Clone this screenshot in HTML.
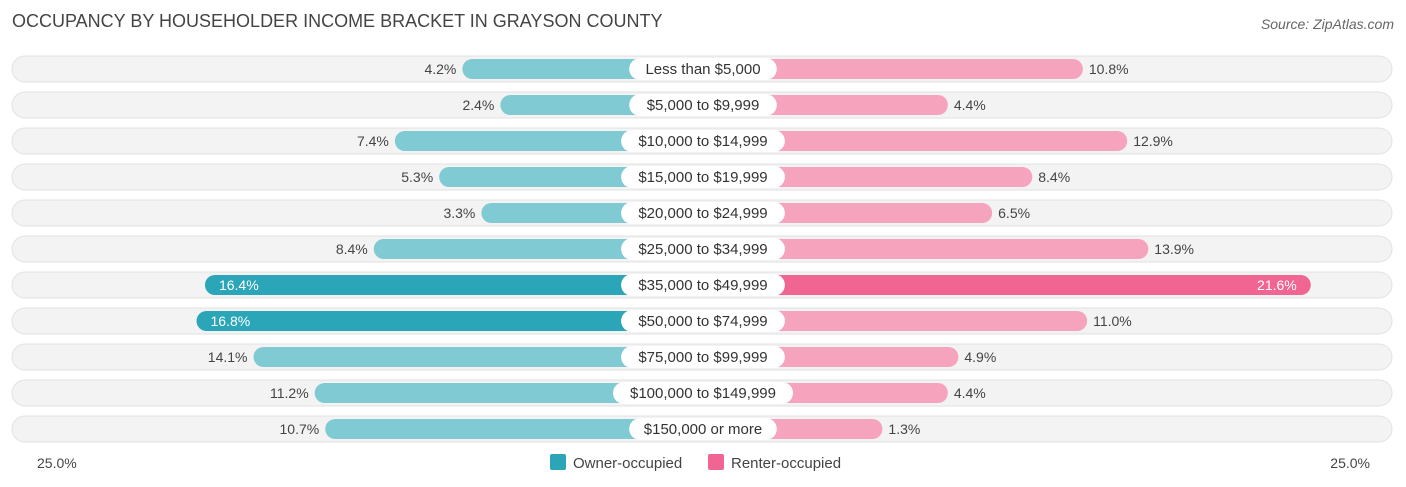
<!DOCTYPE html>
<html><head><meta charset="utf-8"><style>
body{margin:0;width:1406px;height:487px;background:#fff;font-family:"Liberation Sans",sans-serif;overflow:hidden;position:relative}
.t{position:absolute;white-space:nowrap}
</style></head><body>
<div class="t" style="left:12px;top:11px;font-size:18px;color:#444">OCCUPANCY BY HOUSEHOLDER INCOME BRACKET IN GRAYSON COUNTY</div>
<div class="t" style="right:12px;top:16px;font-size:14px;color:#666;font-style:italic">Source: ZipAtlas.com</div>
<svg id="chart" width="1406" height="487" style="position:absolute;left:0;top:0"></svg>
<script>
const categories=["Less than $5,000","$5,000 to $9,999","$10,000 to $14,999","$15,000 to $19,999","$20,000 to $24,999","$25,000 to $34,999","$35,000 to $49,999","$50,000 to $74,999","$75,000 to $99,999","$100,000 to $149,999","$150,000 or more"];
const owner=[4.2,2.4,7.4,5.3,3.3,8.4,16.4,16.8,14.1,11.2,10.7];
const renter=[10.8,4.4,12.9,8.4,6.5,13.9,21.6,11.0,4.9,4.4,1.3];
const axisLabels=["25.0%","25.0%"];
const NS="http://www.w3.org/2000/svg";
const svg=document.getElementById('chart');
const cx=703,off=152,k=21.1,y0=69,step=36;
function xL(v){return cx-off-v*k}
function xR(v){return cx+off+v*k}
function mk(tag,a,parent){const e=document.createElementNS(NS,tag);for(const n in a)e.setAttribute(n,a[n]);(parent||svg).appendChild(e);return e}
categories.forEach((c,i)=>{
 const y=y0+i*step;
 const g=mk('g',{});
 
 
 const bg=mk('rect',{x:12,y:y-13,width:1380,height:26,rx:13,fill:'#f3f3f3',stroke:'#e2e2e2'},g);
 
 
 const strongO=owner[i]>15,strongR=renter[i]>15;
 const bo=mk('rect',{x:xL(owner[i]),y:y-10,width:cx-xL(owner[i]),height:20,rx:10,fill:strongO?'#2ba6b8':'#7fcad3'},g);
 
 
 const br=mk('rect',{x:cx,y:y-10,width:xR(renter[i])-cx,height:20,rx:10,fill:strongR?'#f06592':'#f6a3bd'},g);
 
 
 const w=c.length*8.1+18;
 const lb=mk('rect',{x:cx-w/2,y:y-11,width:w,height:22,rx:11,fill:'#fff'},g);
 
 
 const t=mk('text',{x:cx,y:y+5,'text-anchor':'middle','font-size':15,fill:'#333'},g);t.textContent=c;
 
 
 const ov=strongO?mk('text',{x:xL(owner[i])+14,y:y+5,'font-size':14,fill:'#fff'},g):mk('text',{x:xL(owner[i])-6,y:y+5,'text-anchor':'end','font-size':14,fill:'#444'},g);
 ov.textContent=owner[i].toFixed(1)+'%';
 
 
 const rv=strongR?mk('text',{x:xR(renter[i])-14,y:y+5,'text-anchor':'end','font-size':14,fill:'#fff'},g):mk('text',{x:xR(renter[i])+6,y:y+5,'font-size':14,fill:'#444'},g);
 rv.textContent=renter[i].toFixed(1)+'%';
 
 
});
const a1=mk('text',{x:37,y:468,'font-size':14,fill:'#444'});a1.textContent=axisLabels[0];


const a2=mk('text',{x:1370,y:468,'text-anchor':'end','font-size':14,fill:'#444'});a2.textContent=axisLabels[1];


const l1=mk('rect',{x:550,y:454,width:16,height:16,rx:2,fill:'#2ba6b8'});


const lt1=mk('text',{x:573,y:468,'font-size':15,fill:'#444'});lt1.textContent='Owner-occupied';


const l2=mk('rect',{x:708,y:454,width:16,height:16,rx:2,fill:'#f06592'});


const lt2=mk('text',{x:731,y:468,'font-size':15,fill:'#444'});lt2.textContent='Renter-occupied';


</script>
</body></html>
